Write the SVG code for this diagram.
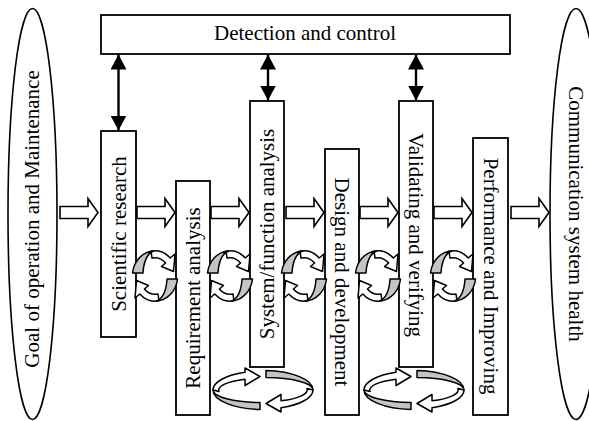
<svg xmlns="http://www.w3.org/2000/svg" width="589" height="421" viewBox="0 0 589 421">
<style>
.box{fill:#fff;stroke:#000;stroke-width:1.8}
.ell{fill:#fff;stroke:#000;stroke-width:1.6}
.lbl{font-family:"Liberation Serif","Times New Roman",serif;font-size:21px;fill:#000;text-anchor:middle}
.blk{fill:#fff;stroke:#000;stroke-width:1.6}
.link{stroke:#000;stroke-width:2.4;fill:none}
.rw{fill:#fff;stroke:#000;stroke-width:1.5;stroke-linejoin:round}
.rg{fill:#c4c4c4;stroke:#000;stroke-width:1.5;stroke-linejoin:round}
</style>
<defs>
  <marker id="head" viewBox="0 0 15 16" refX="15" refY="8" markerWidth="15" markerHeight="16" markerUnits="userSpaceOnUse" orient="auto-start-reverse">
    <path d="M0,0 L15,8 L0,16 Z" fill="#000"/>
  </marker>
  <!-- hollow block arrow pointing right -->
  <path id="blkA" d="M0,-6 H28 V-14 L38,0 L28,14 V6 H0 Z"/>
  <!-- half of the small iteration loop: grey twist + white arrow -->
  <g id="spinHalf">
    <path class="rw" d="M-4,-24.7 A22,25 0 0 1 15.2,-18 L20,-22 L18.5,-4.5 L6.5,-9.5 L10.6,-13 A15.5,18.5 0 0 0 -3,-18 Z"/>
    <path class="rg" d="M-22.5,-3 A22.5,25 0 0 1 -1.5,-25 Q-11,-21 -12,-3 Z"/>
  </g>
  <g id="spin"><use href="#spinHalf"/><use href="#spinHalf" transform="rotate(180)"/></g>
  <!-- half of the flat loop below a stage -->
  <g id="loopHalf">
    <path class="rw" d="M-50,0 A50,19 0 0 1 -18,-17.7 L-18,-22 L-3,-13.5 L-18,-4.5 L-18,-10.8 A44,12 0 0 0 -44,1.5 Z"/>
    <path class="rg" d="M-3,19.5 A50,19.5 0 0 1 -50,0 A47,12.5 0 0 0 -3,12.5 Z"/>
  </g>
  <g id="loop"><use href="#loopHalf"/><use href="#loopHalf" transform="rotate(180)"/></g>
</defs>

<g id="goal">
  <ellipse class="ell" cx="32.5" cy="214" rx="24.5" ry="205.5"/>
  <text class="lbl" transform="translate(32,219) rotate(-90)" y="7">Goal of operation and Maintenance</text>
</g>
<g id="health">
  <ellipse class="ell" cx="576" cy="214" rx="26" ry="205.5"/>
  <text class="lbl" transform="translate(576,214) rotate(90)" y="7">Communication system health</text>
</g>
<g id="detection">
  <rect class="box" x="101" y="15" width="409" height="39"/>
  <text class="lbl" x="305" y="40">Detection and control</text>
</g>

<g id="connectors">
  <line class="link" x1="118.5" y1="54.5" x2="118.5" y2="130.5" marker-start="url(#head)" marker-end="url(#head)"/>
  <line class="link" x1="268" y1="54.5" x2="268" y2="100.5" marker-start="url(#head)" marker-end="url(#head)"/>
  <line class="link" x1="416" y1="54.5" x2="416" y2="100.5" marker-start="url(#head)" marker-end="url(#head)"/>
  <use href="#blkA" class="blk" x="60" y="212.5"/>
  <use href="#blkA" class="blk" x="137" y="212.5"/>
  <use href="#blkA" class="blk" x="211" y="212.5"/>
  <use href="#blkA" class="blk" x="286" y="212.5"/>
  <use href="#blkA" class="blk" x="360" y="212.5"/>
  <use href="#blkA" class="blk" x="434" y="212.5"/>
  <use href="#blkA" class="blk" x="511" y="212.5"/>
</g>

<g id="research">
  <rect class="box" x="101" y="131" width="35" height="206"/>
  <text class="lbl" transform="translate(118.5,234) rotate(-90)" y="7">Scientific research</text>
</g>
<g id="requirement">
  <rect class="box" x="176" y="181" width="34" height="234"/>
  <text class="lbl" transform="translate(193,298) rotate(-90)" y="7">Requirement analysis</text>
</g>
<g id="system">
  <rect class="box" x="250" y="101" width="34" height="266"/>
  <text class="lbl" transform="translate(267,234) rotate(-90)" y="7">System/function analysis</text>
</g>
<g id="design">
  <rect class="box" x="325" y="149" width="34" height="266"/>
  <text class="lbl" transform="translate(342,282) rotate(90)" y="7">Design and development</text>
</g>
<g id="validating">
  <rect class="box" x="399" y="101" width="34" height="266"/>
  <text class="lbl" transform="translate(416,235) rotate(90)" y="7">Validating and verifying</text>
</g>
<g id="performance">
  <rect class="box" x="473" y="138" width="35" height="277"/>
  <text class="lbl" transform="translate(490.5,276) rotate(90)" y="7">Performance and Improving</text>
</g>

<g id="iterations">
  <use href="#spin" x="155" y="276"/>
  <use href="#spin" x="230" y="276"/>
  <use href="#spin" x="304" y="276"/>
  <use href="#spin" x="378" y="276"/>
  <use href="#spin" x="453" y="276"/>
  <use href="#loop" x="263" y="390"/>
  <use href="#loop" x="414" y="390"/>
</g>
</svg>
